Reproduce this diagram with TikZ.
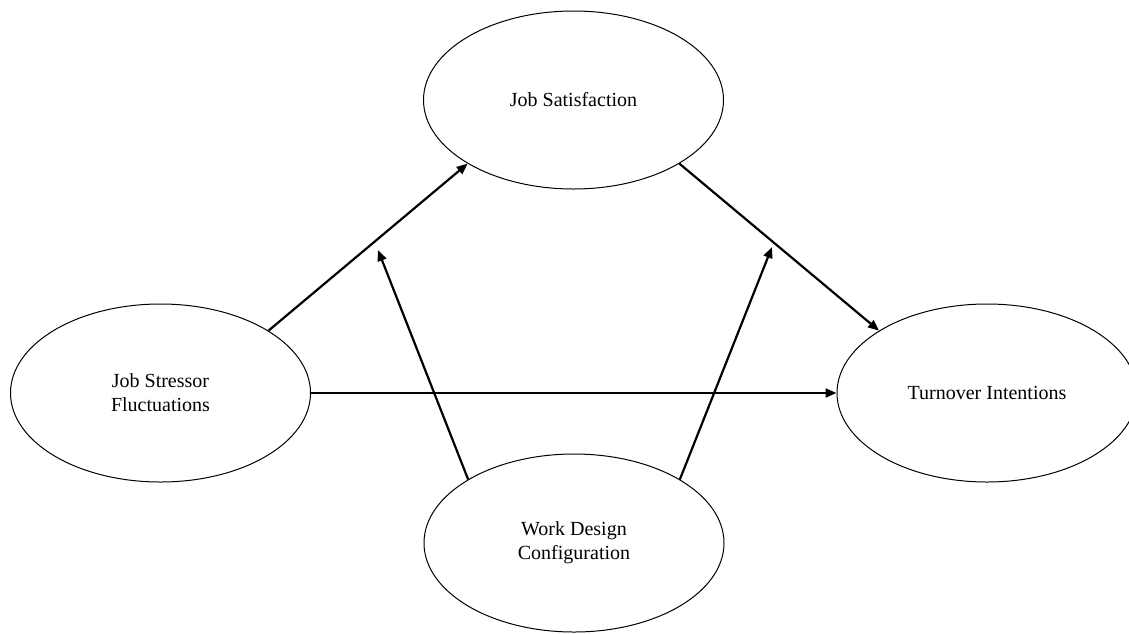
\documentclass[tikz,border=0pt]{standalone}
\usepackage{fontspec}
\setmainfont{Liberation Serif}
\usetikzlibrary{shapes.geometric,arrows.meta}
\begin{document}
\begin{tikzpicture}[x=1pt,y=-1pt,
  latent/.style={ellipse,draw,line width=1pt,minimum width=300pt,minimum height=178pt,inner sep=0pt,align=center,font=\fontsize{20}{24}\selectfont},
  path/.style={line width=2.2pt,-{Triangle[length=11pt,width=9pt]}}]
\useasboundingbox (0,0) rectangle (1129,633);
\node[latent] (js) at (573.5,100) {Job Satisfaction};
\node[latent] (jsf) at (160.5,393) {Job Stressor\\Fluctuations};
\node[latent] (ti) at (987,393) {Turnover Intentions};
\node[latent] (wdc) at (574,543) {Work Design\\Configuration};
\coordinate (m1) at (378,250);
\coordinate (m2) at (772,247);
\draw[path] (jsf.30) -- (js.211);
\draw[path] (js.329) -- (ti.150);
\draw[path] (jsf.east) -- (ti.west);
\draw[path] (wdc.149) -- (m1);
\draw[path] (wdc.31) -- (m2);
\end{tikzpicture}
\end{document}
